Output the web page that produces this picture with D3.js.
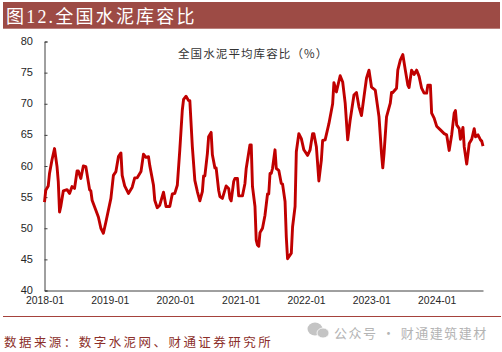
<!DOCTYPE html>
<html>
<head>
<meta charset="utf-8">
<script src="https://cdn.jsdelivr.net/npm/d3@7"></script>
<style>
  html, body { margin: 0; padding: 0; background: #fff; }
  svg { display: block; }
</style>
</head>
<body>
<div id="chart"></div>
<script>
// weeks counted from the first week of 2018
var weeks = [0,1,3.4,4.5,6.3,8.5,10,11.6,12.4,13.5,15.6,18.6,20.4,22.3,24,26.3,27.3,29.2,31.6,33,36,37.4,38.5,41.7,43.8,45,47.3,49.7,53.4,55,57.7,59.8,61.4,62.4,64,67,70.4,72,74,77,79.5,81,83,84.8,87.4,88.5,90,92.8,95,97,100,102.3,104.2,106,108.2,110.3,111.4,113,115,116.7,118.8,120.4,122.5,124.7,126.3,127.3,128.4,130,131.6,133.2,134.8,136.4,137.7,139.3,140.6,142.8,145.4,147,148,149.4,151,152.6,154.2,155.8,158.2,160.6,161.4,164,165.4,166.7,168.3,169.3,170.7,171.7,172.5,174.7,176.8,178.7,179.7,180.5,181.6,182.1,184.2,185.8,187.4,189,190,192.2,193.3,194.9,197.5,198.6,200,201.3,203.9,205.5,207.9,210.6,212.4,214.6,215.9,217.2,219.1,221.2,222.5,224.4,227.9,230,231.6,233.8,236.4,238,240.1,242.5,244.4,247,249.7,251.8,253.4,255.6,257.7,259.3,261.1,262.5,264.6,267.8,269.1,270.5,271.8,273.6,276.3,277.1,278.4,281.1,282.4,284.3,286.4,288.5,290.4,291.7,293.9,295.7,297.6,299.7,301.6,303.7,305,306.6,308,309.8,311.4,313,316.2,319.7,321.5,323.6,325.5,327.1,328.4,329.8,331.1,332.4,334.3,335.6,337.2,339.1,341.2,343.1,344.7,346.8,348.4,349.7,350.2];
var ratio = [54.2,56.1,56.8,58.8,61,62.8,59.9,57.5,52.6,53.5,56,56.2,55.6,56.7,56.4,59.2,59.2,58,60,59.9,56.2,56,54.5,52.9,51.8,50,49.2,51,54.8,58.5,59.1,61.5,62.1,58.5,56.8,55.6,56.6,58.1,58.1,59.1,61.9,61.4,61.5,60.1,56.9,54.5,53.3,53.7,55.8,53.5,53.5,55.5,55.6,56.9,62.6,69,70.7,71.2,70.5,70.5,63.1,57.7,55.9,54.4,55.9,58.4,58.4,62,64.7,65.4,61.8,59.7,59.7,56.1,55.1,54.8,56.8,56.4,54.8,54.4,57.5,58,58,55.2,55.2,57.2,59.6,63.4,63.4,56.7,53.5,48.1,47.3,47.1,49.3,50,52.1,55.5,55.5,58.8,58.8,59.6,62.6,59.6,59.3,57.2,57.1,54.3,48.6,45.1,46,50.2,53.5,62.3,65.2,64.4,62.6,61.7,62.6,65.2,65.2,63.1,57.6,61,64.1,64.2,66.8,70,73.4,71.9,74.5,73.5,70.1,64.2,67.4,71.4,71.8,69.5,68.1,71.1,74.1,75.4,72.7,72.5,72.2,67.9,62,59.7,62,67.9,70.1,71.8,71.8,72.5,75.4,77,77.9,75.4,73,72.6,75.4,74.7,75.4,74.4,72.5,71.7,71.7,73,73,68.5,67.7,66.4,65.8,65.2,65,62.5,65,68.5,68.9,66.6,66,64.3,66.2,63.1,60.3,63.6,64.3,66,64.7,65,64.2,64,63.2];
var yTicks = [40,45,50,55,60,65,70,75,80];
var xTicks = ["2018-01","2019-01","2020-01","2021-01","2022-01","2023-01","2024-01"];

var margin = {top: 41.5, left: 44.5, bottom: 61.5, right: 19},
    W = 502, H = 352;

var svg = d3.select("#chart").append("svg").attr("width", W).attr("height", H);

var parseMonth = d3.timeParse("%Y-%m");
var start = parseMonth("2018-01");

var x = d3.scaleTime()
    .domain([start, d3.timeWeek.offset(start, 350.2)])
    .range([margin.left, W - margin.right]);
var y = d3.scaleLinear().domain([40, 80]).range([H - margin.bottom, margin.top]);

// title banner
svg.append("rect").attr("x", 3).attr("y", 2).attr("width", 497).attr("height", 26.7).attr("fill", "#9d4b45");
svg.append("text").attr("x", 6).attr("y", 23).attr("fill", "#fff")
    .style("font-family", "'Liberation Serif','Noto Sans CJK SC'").style("font-size", "18px").style("letter-spacing", "2.2px")
    .text("图12.全国水泥库容比");

// axes
var gy = svg.append("g").attr("transform", "translate(" + margin.left + ",0)")
    .call(d3.axisRight(y).tickValues(yTicks).tickSize(3));
gy.selectAll("text").attr("text-anchor", "end").attr("x", -11.5).attr("dy", "0.28em");
var gx = svg.append("g").attr("transform", "translate(0," + (H - margin.bottom) + ")")
    .call(d3.axisBottom(x).tickValues(xTicks.map(parseMonth)).tickFormat(d3.timeFormat("%Y-%m")).tickSize(0).tickPadding(6.5));
svg.selectAll(".domain, .tick line").attr("stroke", "#404040").attr("stroke-width", 1);
gy.selectAll("text").style("font-size", "11px");
gx.selectAll("text").style("font-size", "10.4px");
svg.selectAll(".tick text").attr("fill", "#262626").style("font-family", "'Liberation Sans'");

// series
var line = d3.line()
    .x(function(d) { return x(d3.timeWeek.offset(start, d[0])); })
    .y(function(d) { return y(d[1]); });
svg.append("path")
    .datum(d3.zip(weeks, ratio))
    .attr("fill", "none").attr("stroke", "#c00000").attr("stroke-width", 2.9)
    .attr("stroke-linejoin", "round")
    .attr("d", line);

svg.append("text").attr("x", 178).attr("y", 58).attr("fill", "#333")
    .style("font-family", "'Noto Sans CJK SC'").style("font-size", "11.5px").style("letter-spacing", "1.1px")
    .text("全国水泥平均库容比（%）");

// footer
svg.append("line").attr("x1", 3).attr("x2", 501).attr("y1", 316.5).attr("y2", 316.5).attr("stroke", "#a5423c").attr("stroke-width", 1);
svg.append("text").attr("x", 4).attr("y", 347).attr("fill", "#8c2f2a")
    .style("font-family", "'Noto Sans CJK SC'").style("font-size", "12.5px").style("letter-spacing", "2.45px")
    .text("数据来源：数字水泥网、财通证券研究所");
svg.append("text").attr("x", 334).attr("y", 338).attr("fill", "#b4b4b4")
    .style("font-family", "'Noto Sans CJK SC'").style("font-size", "13px").style("letter-spacing", "1.5px")
    .text("公众号 · 财通建筑建材");
svg.append("ellipse").attr("cx", 315).attr("cy", 329).attr("rx", 7.5).attr("ry", 6.5).attr("fill", "#c4c4c4");
svg.append("ellipse").attr("cx", 323).attr("cy", 333).attr("rx", 6).attr("ry", 5).attr("fill", "#c4c4c4").attr("stroke", "#fff").attr("stroke-width", 0.8);
</script>
</body>
</html>
